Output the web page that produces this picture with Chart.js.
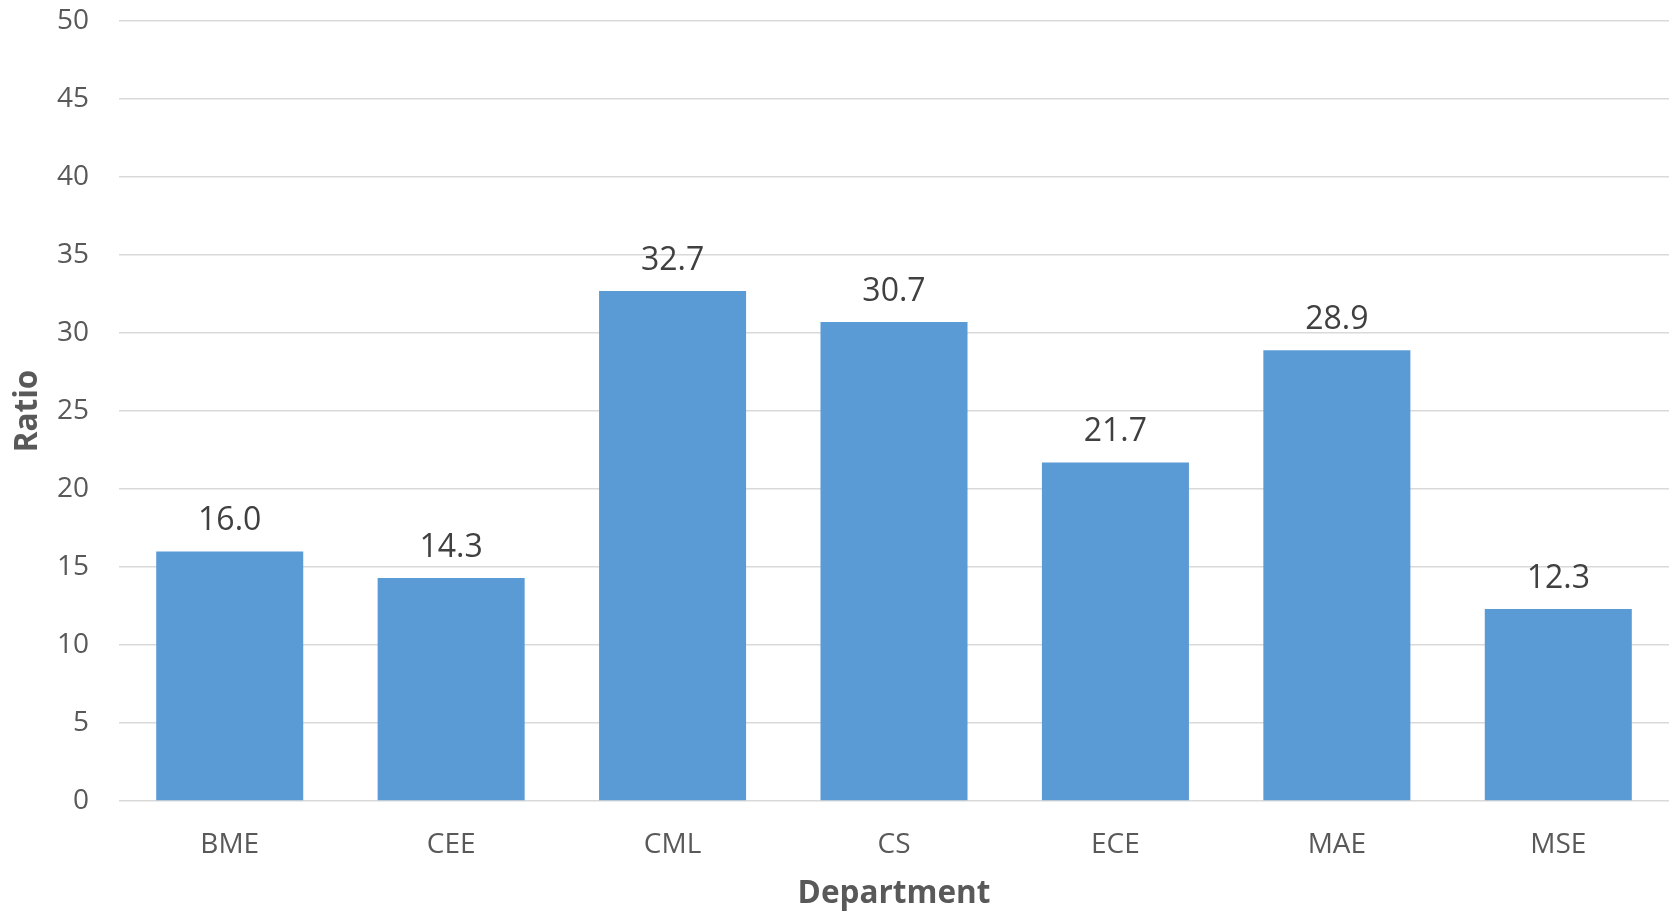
<!DOCTYPE html>
<html>
<head>
<meta charset="utf-8">
<script src="https://cdn.jsdelivr.net/npm/chart.js@4/dist/chart.umd.min.js"></script>
<style>
  html, body { margin: 0; padding: 0; background: #ffffff; }
  #wrap { width: 1673px; height: 913px; position: relative; }
</style>
</head>
<body>
<div id="wrap"><canvas id="chart" width="1673" height="913"></canvas></div>
<script>
// Student-to-faculty ratio per department
const departments = ['BME', 'CEE', 'CML', 'CS', 'ECE', 'MAE', 'MSE'];
const ratios = [16.0, 14.3, 32.7, 30.7, 21.7, 28.9, 12.3];
const yTicks = [0, 5, 10, 15, 20, 25, 30, 35, 40, 45, 50];

const FONT = '"Open Sans", "Noto Sans", sans-serif';

// Prints each bar's value just above it
const valueLabels = {
  id: 'valueLabels',
  afterDatasetsDraw(chart) {
    const ctx = chart.ctx;
    const meta = chart.getDatasetMeta(0);
    ctx.save();
    ctx.font = '32px ' + FONT;
    ctx.fillStyle = '#404040';
    ctx.textAlign = 'center';
    ctx.textBaseline = 'alphabetic';
    meta.data.forEach((bar, i) => {
      ctx.fillText(ratios[i].toFixed(1), bar.x, bar.y - 21);
    });
    ctx.restore();
  }
};

new Chart(document.getElementById('chart'), {
  type: 'bar',
  data: {
    labels: departments,
    datasets: [{
      label: 'Ratio',
      data: ratios,
      backgroundColor: '#5B9BD5',
      borderWidth: 0,
      barPercentage: 0.664,
      categoryPercentage: 1.0
    }]
  },
  options: {
    responsive: false,
    animation: false,
    layout: { padding: { top: 21, right: 4, left: 0, bottom: 0 } },
    plugins: {
      legend: { display: false },
      tooltip: { enabled: false }
    },
    scales: {
      x: {
        grid: { display: false },
        border: { display: false },
        ticks: {
          color: '#595959',
          font: { family: FONT, size: 28 },
          padding: 19,
          maxRotation: 0
        },
        title: {
          display: true,
          text: 'Department',
          color: '#595959',
          font: { family: FONT, size: 31.5, weight: 'bold', lineHeight: 1.2 },
          padding: { top: 0, bottom: 0 }
        },
        afterFit(scale) { scale.height = 112; }
      },
      y: {
        min: 0,
        max: 50,
        afterBuildTicks(scale) {
          scale.ticks = yTicks.map(v => ({ value: v }));
        },
        grid: {
          color: '#D9D9D9',
          lineWidth: 1.5,
          drawTicks: false
        },
        border: { display: false },
        ticks: {
          color: '#595959',
          font: { family: FONT, size: 28 },
          padding: 30
        },
        title: {
          display: true,
          text: 'Ratio',
          color: '#595959',
          font: { family: FONT, size: 31.5, weight: 'bold', lineHeight: 1.2 },
          padding: { top: 9, bottom: 0 }
        },
        afterFit(scale) {
          scale.width = 119;
          scale.paddingTop = 0;
          scale.paddingBottom = 0;
        }
      }
    }
  },
  plugins: [valueLabels]
});
</script>
</body>
</html>
